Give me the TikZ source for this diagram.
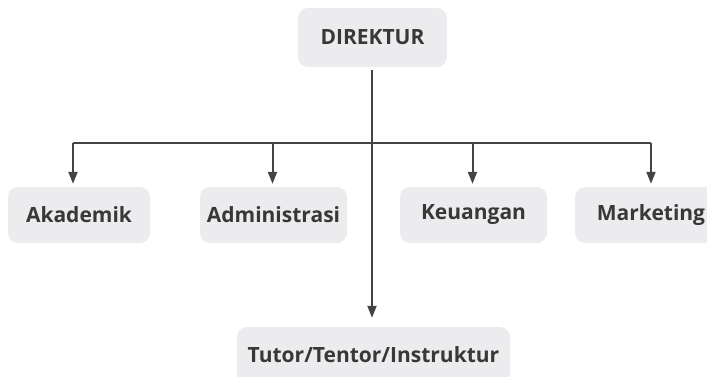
\documentclass[tikz,border=0pt]{standalone}
\usepackage{fontspec}
\setmainfont{Open Sans}
\usepackage{xcolor}
\usetikzlibrary{positioning, arrows.meta, calc}

\definecolor{boxgray}{HTML}{ECECEE}
\definecolor{inkgray}{HTML}{383838}
\definecolor{linegray}{HTML}{444444}

\begin{document}
\begin{tikzpicture}[
  x=1pt, y=-1pt,
  >={Triangle[width=9pt,length=12pt]},
  unit/.style={fill=boxgray, rounded corners=10pt, minimum height=56pt, inner sep=0pt,
    font=\fontsize{21}{24}\selectfont\bfseries, text=inkgray},
  link/.style={draw=linegray, line width=2pt}
]
\useasboundingbox (0,0) rectangle (707,376);

% Top
\node[unit, minimum width=149pt, minimum height=59pt] (direktur) at (372.5,37.5) {DIREKTUR};

% Divisions
\node[unit, minimum width=142pt] (akademik) at (79,215) {Akademik};
\node[unit, minimum width=147pt] (administrasi) at (273.5,215) {Administrasi};
\node[unit, minimum width=147pt] (keuangan) at (473.5,215) {Keuangan};
\node[unit, minimum width=152pt] (marketing) at (651,215) {Marketing};

% Bottom
\node[unit, minimum width=273pt] (tutor) at (373.5,355) {Tutor/Tentor/Instruktur};

% Bus
\coordinate (b1) at (73,143);
\coordinate (b2) at (272.5,143);
\coordinate (b3) at (472.5,143);
\coordinate (b4) at (651,143);
\draw[link] (b1) -- (b4);

% Main line
\draw[link, ->, shorten <=3pt, shorten >=9pt] (direktur.south -| 372,0) -- (tutor.north -| 372,0);

% Drops
\foreach \b/\n in {b1/akademik, b2/administrasi, b3/keuangan, b4/marketing} {
  \draw[link, ->, shorten >=3pt] (\b) -- (\b |- \n.north);
}

\end{tikzpicture}
\end{document}
